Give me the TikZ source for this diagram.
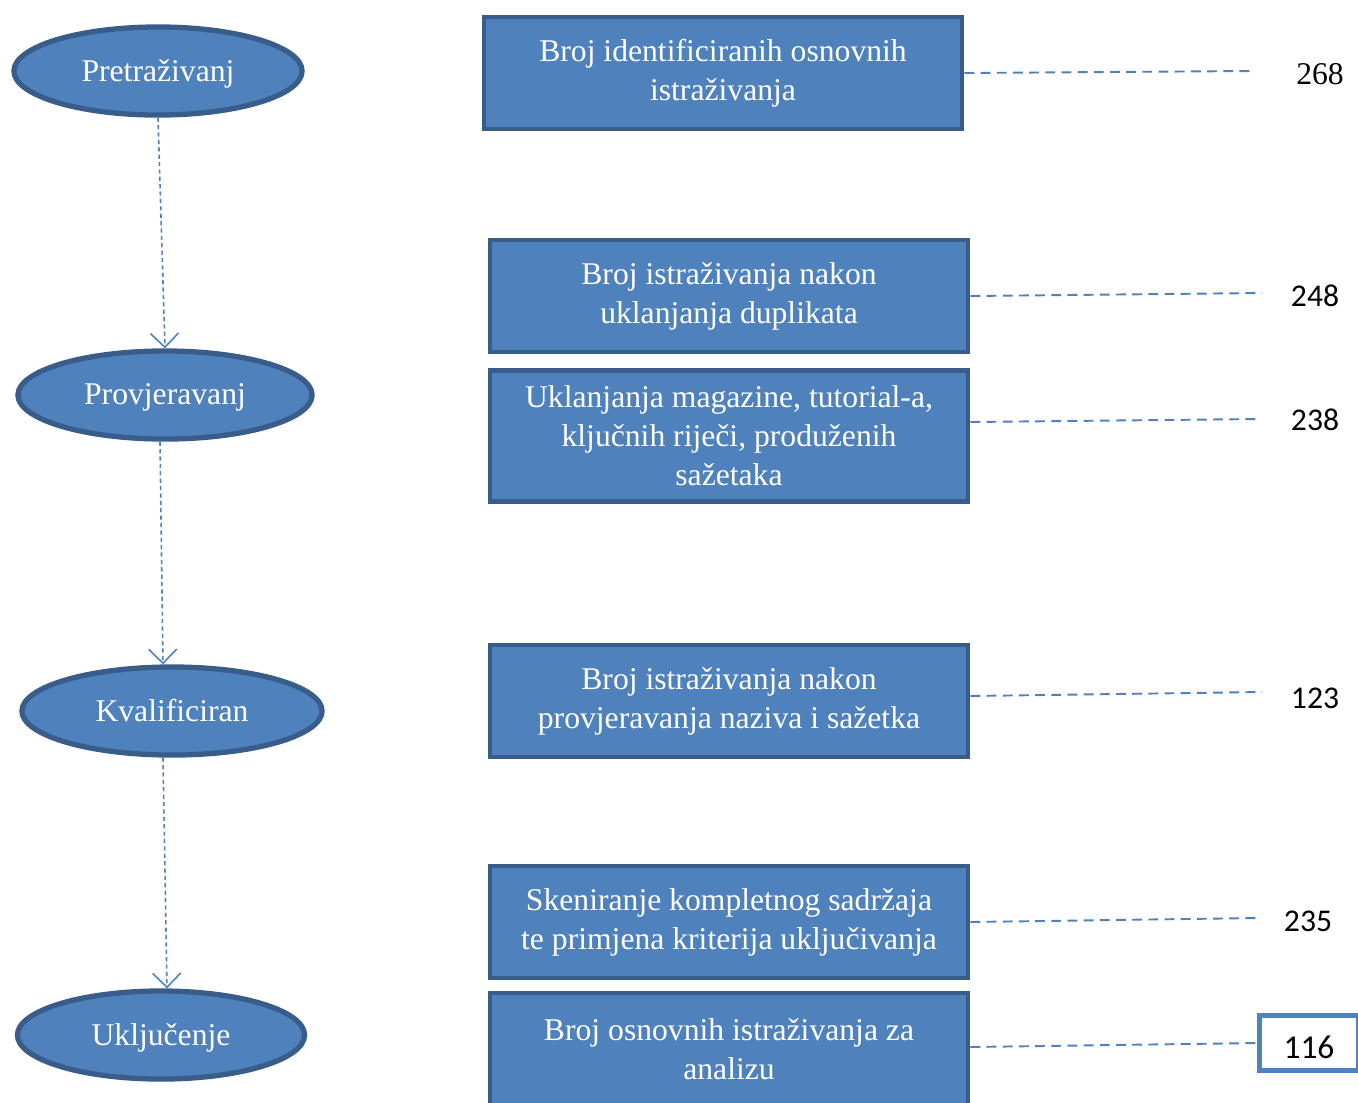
\documentclass[tikz,border=0pt]{standalone}
\usepackage{fontspec}
\setmainfont{Liberation Serif}
\newfontfamily\numfont{Carlito}
\usetikzlibrary{shapes.geometric,arrows.meta}

\definecolor{boxblue}{HTML}{4F81BD}
\definecolor{edgeblue}{HTML}{385D8A}

\tikzset{
  phase/.style={ellipse, draw=edgeblue, fill=boxblue, line width=1.5pt,
    minimum height=0.88cm, inner sep=0pt, text=white, text depth=0.5pt,
    font=\fontsize{9}{11}\selectfont},
  stepbox/.style={rectangle, draw=edgeblue, fill=boxblue, line width=1.3pt,
    minimum width=4.78cm, minimum height=1.12cm, inner sep=0pt, align=center,
    text=white, font=\fontsize{9}{11.1}\selectfont},
  count/.style={inner sep=0pt, font=\numfont\fontsize{9}{11}\selectfont},
  countlink/.style={boxblue, line width=0.55pt, dash pattern=on 2.8pt off 1.8pt},
  flowlink/.style={boxblue, line width=0.45pt, dash pattern=on 1.2pt off 0.9pt,
    -{Straight Barb[length=1.4mm,width=2.8mm,line width=0.45pt]}}
}

\begin{document}
\begin{tikzpicture}[x=0.01cm, y=-0.01cm]
% Page size of the reference
\path[use as bounding box, clip] (0,0) rectangle (1358,1102);

% Phases on the left
\node[phase, minimum width=2.88cm] (pretraga) at (158,71) {Pretraživanj};
\node[phase, minimum width=2.94cm] (provjera) at (165,395) {Provjeravanj};
\node[phase, minimum width=3.00cm] (kvalif) at (172,711) {Kvalificiran};
\node[phase, minimum width=2.87cm] (ukljuc) at (161,1035) {Uključenje};

% Steps in the middle
\node[stepbox] (b1) at (723,73) {Broj identificiranih osnovnih\\istraživanja};
\node[stepbox] (b2) at (729,296) {Broj istraživanja nakon\\uklanjanja duplikata};
\node[stepbox, minimum height=1.31cm] (b3) at (729,436) {Uklanjanja magazine, tutorial-a,\\ključnih riječi, produženih\\sažetaka};
\node[stepbox] (b4) at (729,701) {Broj istraživanja nakon\\provjeravanja naziva i sažetka};
\node[stepbox] (b5) at (729,922) {Skeniranje kompletnog sadržaja\\te primjena kriterija uključivanja};
\node[stepbox] (b6) at (729,1049) {Broj osnovnih istraživanja za\\analizu};

% Counts on the right
\node[count, font=\fontsize{9}{11}\selectfont] (n1) at (1320,74) {268};
\node[count] (n2) at (1315,296) {248};
\node[count] (n3) at (1315,420) {238};
\node[count] (n4) at (1315,698) {123};
\node[count] (n5) at (1308,921) {235};
\node[count, draw=boxblue, line width=1.4pt, minimum width=0.99cm,
  minimum height=0.55cm, text height=9pt, text depth=0pt,
  font=\numfont\fontsize{9.5}{11}\selectfont] (n6) at (1309,1043) {116};

% Ends of the dashed leaders
\coordinate (e1) at (1252,71);
\coordinate (e2) at (1262,293);
\coordinate (e3) at (1258,419);
\coordinate (e4) at (1262,692);
\coordinate (e5) at (1256,918);

% Flow between the phases
\draw[flowlink] (pretraga.south) -- (provjera.north);
\draw[flowlink] ([xshift=-0.05cm]provjera.south) -- ([xshift=-0.09cm]kvalif.north);
\draw[flowlink] ([xshift=-0.09cm]kvalif.south) -- ([xshift=0.06cm]ukljuc.north);

% Leaders to the counts
\draw[countlink] (b1.east) -- (e1);
\draw[countlink] (b2.east) -- (e2);
\draw[countlink] ([yshift=0.14cm]b3.east) -- (e3);
\draw[countlink] ([yshift=0.05cm]b4.east) -- (e4);
\draw[countlink] (b5.east) -- (e5);
\draw[countlink] ([yshift=0.02cm]b6.east) -- (n6.west);
\end{tikzpicture}
\end{document}
